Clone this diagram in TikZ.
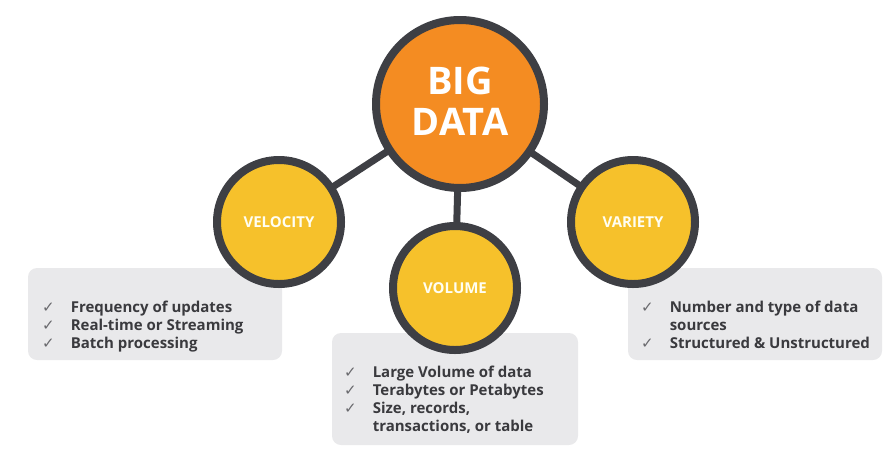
\documentclass[tikz,border=0pt]{standalone}
\usepackage{fontspec}
\setmainfont{Open Sans}
\newfontfamily\chkfont{DejaVu Sans}
\definecolor{bigorange}{HTML}{F48C22}
\definecolor{smallyellow}{HTML}{F6C12B}
\definecolor{ringgray}{HTML}{3E3F44}
\definecolor{boxgray}{HTML}{E9E9EB}
\definecolor{txtgray}{HTML}{3A3A3E}
\definecolor{chkgray}{HTML}{6A6A6E}
\newcommand{\ck}{{\chkfont\mdseries\fontsize{15}{15}\selectfont\textcolor{chkgray}{✓}}}
\tikzset{
  bigcircle/.style={circle, fill=bigorange, draw=ringgray, line width=8pt, minimum size=168pt, inner sep=0pt},
  smallcircle/.style={circle, fill=smallyellow, draw=ringgray, line width=8pt, minimum size=124pt, inner sep=0pt},
  link/.style={draw=ringgray, line width=7pt},
  infobox/.style={fill=boxgray, rounded corners=9pt, draw=none},
  bigtext/.style={text=white, font=\bfseries\fontsize{38}{42}\selectfont, align=center},
  smalltext/.style={text=white!95!yellow, font=\bfseries\fontsize{15}{18}\selectfont},
  listtext/.style={text=txtgray, font=\bfseries\fontsize{15}{18.3}\selectfont, anchor=north west, inner sep=0pt}
}
\begin{document}
\begin{tikzpicture}[x=1pt,y=-1pt]
\useasboundingbox (0,0) rectangle (896,448);
% boxes
\fill[infobox] (28,268) rectangle (282,360);
\fill[infobox] (332,333) rectangle (578,445);
\fill[infobox] (628,268) rectangle (882,360);
% circle positions
\coordinate (cbig) at (460,104);
\coordinate (cvel) at (279,222);
\coordinate (cvol) at (455,288);
\coordinate (cvar) at (633,222);
% connectors
\draw[link] (cbig) -- (cvel);
\draw[link] (cbig) -- (cvol);
\draw[link] (cbig) -- (cvar);
% circles
\node[smallcircle] (vel) at (cvel) {};
\node[smallcircle] (var) at (cvar) {};
\node[smallcircle] (vol) at (cvol) {};
\node[bigcircle] (big) at (cbig) {};
% labels
\node[bigtext] (bigl) at (460,101) {BIG\\[-1pt]DATA};
\node[smalltext] (vell) at (279,222) {VELOCITY};
\node[smalltext] (voll) at (455,288) {VOLUME};
\node[smalltext] (varl) at (633,222) {VARIETY};
% lists
\node[listtext] (velist) at (42,299) {\begin{tabular}{@{}l@{\hspace{16pt}}l@{}}
\ck & Frequency of updates\\
\ck & Real-time or Streaming\\
\ck & Batch processing
\end{tabular}};
\node[listtext] (volist) at (344,364) {\begin{tabular}{@{}l@{\hspace{16pt}}l@{}}
\ck & Large Volume of data\\
\ck & Terabytes or Petabytes\\
\ck & Size, records,\\
 & transactions, or table
\end{tabular}};
\node[listtext] (varist) at (641,299) {\begin{tabular}{@{}l@{\hspace{16pt}}l@{}}
\ck & Number and type of data\\
 & sources\\
\ck & Structured \& Unstructured
\end{tabular}};
\end{tikzpicture}
\end{document}
